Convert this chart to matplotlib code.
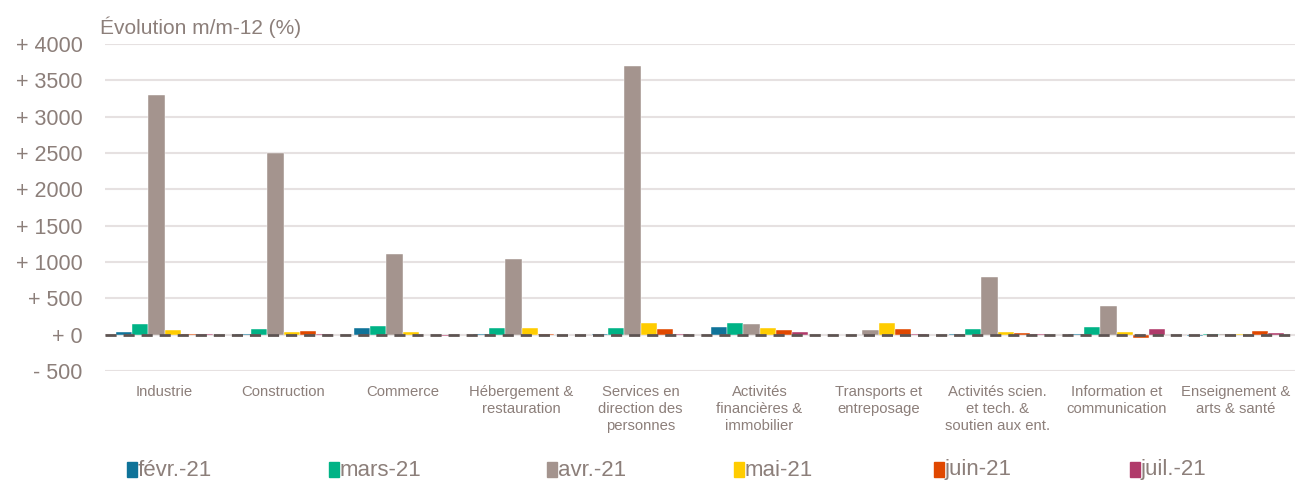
import matplotlib
matplotlib.use("Agg")
import matplotlib.pyplot as plt
import numpy as np

plt.rcParams['font.family'] = ['Liberation Sans', 'DejaVu Sans']

categories = ["Industrie", "Construction", "Commerce", "Hébergement &\nrestauration",
              "Services en\ndirection des\npersonnes", "Activités\nfinancières &\nimmobilier",
              "Transports et\nentreposage", "Activités scien.\net tech. &\nsoutien aux ent.",
              "Information et\ncommunication", "Enseignement &\narts & santé"]
series_names = ["févr.-21", "mars-21", "avr.-21", "mai-21", "juin-21", "juil.-21"]
fevr = [30, 5, 90, 5, 10, 105, -10, 10, 10, -15]
mars = [140, 80, 120, 90, 90, 155, -5, 80, 100, 15]
avr = [3300, 2500, 1110, 1040, 3700, 150, 65, 790, 400, 5]
mai = [60, 30, 40, 90, 155, 90, 155, 40, 40, 10]
juin = [5, 50, -10, 5, 75, 60, 75, 20, -45, 45]
juil = [5, 5, -15, 0, 5, 30, 5, 5, 75, 20]
yticks = [-500, 0, 500, 1000, 1500, 2000, 2500, 3000, 3500, 4000]
ytick_labels = ["- 500", "+ 0", "+ 500", "+ 1000", "+ 1500", "+ 2000", "+ 2500", "+ 3000", "+ 3500", "+ 4000"]

colors = ["#0F7399", "#00B386", "#A4948E", "#FFCC00", "#E04800", "#B03A6A"]
txt = "#8C7F7A"

fig = plt.figure(figsize=(12.98, 4.83), dpi=100)
ax = fig.add_axes([105/1298, 1-371/483, 1190/1298, (371-44)/483])

data = [fevr, mars, avr, mai, juin, juil]
x = np.arange(len(categories))
w = 0.1345
for i, (vals, c, n) in enumerate(zip(data, colors, series_names)):
    ax.bar(x + (i - 2.5) * w, vals, width=w, color=c, label=n, zorder=3,
           edgecolor='white', linewidth=0.3)

ax.set_xlim(-0.5, len(categories) - 0.5)
ax.set_ylim(-500, 4000)
ax.set_yticks(yticks)
ax.set_yticklabels(ytick_labels, fontsize=15.5, color=txt)
ax.set_xticks(x)
ax.set_xticklabels(categories, fontsize=10.7, color=txt, linespacing=1.28)
ax.tick_params(axis='both', length=0)
ax.tick_params(axis='y', pad=16)
ax.tick_params(axis='x', pad=10)
ax.grid(axis='y', color='#E6E1E1', linewidth=1.5, zorder=0)
for s in ax.spines.values():
    s.set_visible(False)
ax.axhline(0, color='#5E5452', linewidth=2, linestyle=(0, (4, 2.5)), zorder=4)

fig.text(100/1298, 1-27/483, "Évolution m/m-12 (%)", fontsize=15, color=txt, va='center', ha='left')

xs = [127, 329, 547, 734, 934, 1130]
for xp, c, n in zip(xs, colors, series_names):
    fig.patches.append(plt.Rectangle((xp/1298, 1-477/483), 10/1298, 15/483, color=c,
                                     transform=fig.transFigure, figure=fig))
    fig.text((xp+11)/1298, 1-470/483, n, fontsize=16, color=txt, va='center', ha='left')

fig.savefig("out.png", dpi=100)
